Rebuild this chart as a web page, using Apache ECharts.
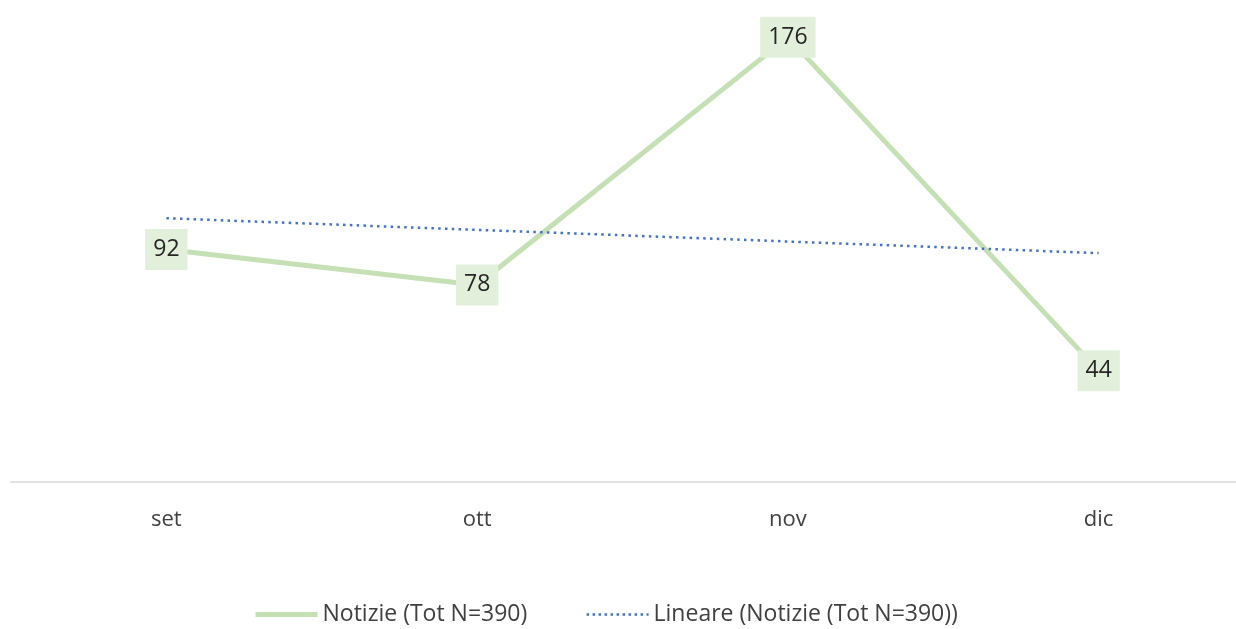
<!DOCTYPE html>
<html>
<head>
<meta charset="utf-8">
<script src="https://cdn.jsdelivr.net/npm/echarts@6/dist/echarts.min.js"></script>
<style>
  html, body { margin: 0; padding: 0; background: #fff; }
  #chart { width: 1236px; height: 629px; }
</style>
</head>
<body>
<div id="chart"></div>
<script>
// mesi
var categories = ["set", "ott", "nov", "dic"];
// notizie per mese
var notizie = [92, 78, 176, 44];
// linea di tendenza
var lineare = [104.4, 99.8, 95.2, 90.6];

var nomeNotizie = "Notizie (Tot N=390)";
var nomeLineare = "Lineare (Notizie (Tot N=390))";

var chart = echarts.init(document.getElementById("chart"));

var option = {
  backgroundColor: "#ffffff",
  animation: false,
  textStyle: { fontFamily: "Open Sans" },
  grid: {
    left: 11,
    width: 1243,
    top: 2,
    bottom: 147,
    outerBoundsMode: "none",
  },
  legend: {
    data: [
      {
        name: nomeNotizie,
        itemStyle: { opacity: 0 },
        lineStyle: { color: "#c5e0b4", width: 5 },
      },
      {
        name: nomeLineare,
        itemStyle: { opacity: 0 },
        lineStyle: { color: "#4472c4", width: 2.5, type: [2.5, 3.5] },
      },
    ],
    left: 248,
    bottom: -2,
    itemWidth: 62,
    itemHeight: 14,
    itemGap: 58,
    textStyle: { fontSize: 23, color: "#404040", fontFamily: "Open Sans" },
  },
  xAxis: {
    type: "category",
    data: categories,
    boundaryGap: true,
    axisLine: { lineStyle: { color: "#d9d9d9", width: 1.5 } },
    axisTick: { show: false },
    axisLabel: { fontSize: 22, color: "#404040", margin: 27 },
  },
  yAxis: {
    type: "value",
    min: 0,
    max: 190,
    show: false,
    splitLine: { show: false },
  },
  series: [
    {
      name: nomeNotizie,
      type: "line",
      data: notizie,
      symbol: "circle",
      symbolSize: 1,
      lineStyle: { color: "#c5e0b4", width: 5 },
      itemStyle: { color: "#c5e0b4" },
      label: {
        show: true,
        position: "inside",
        fontSize: 23,
        color: "#262626",
        backgroundColor: "#e2efda",
        padding: [9, 8, 9, 8],
      },
    },
    {
      name: nomeLineare,
      type: "line",
      data: lineare,
      symbol: "none",
      lineStyle: { color: "#4472c4", width: 2.5, type: [2.5, 4.3] },
      itemStyle: { color: "#4472c4" },
    },
  ],
};

chart.setOption(option);

window.addEventListener("resize", function () {
  chart.resize();
});
</script>
</body>
</html>
